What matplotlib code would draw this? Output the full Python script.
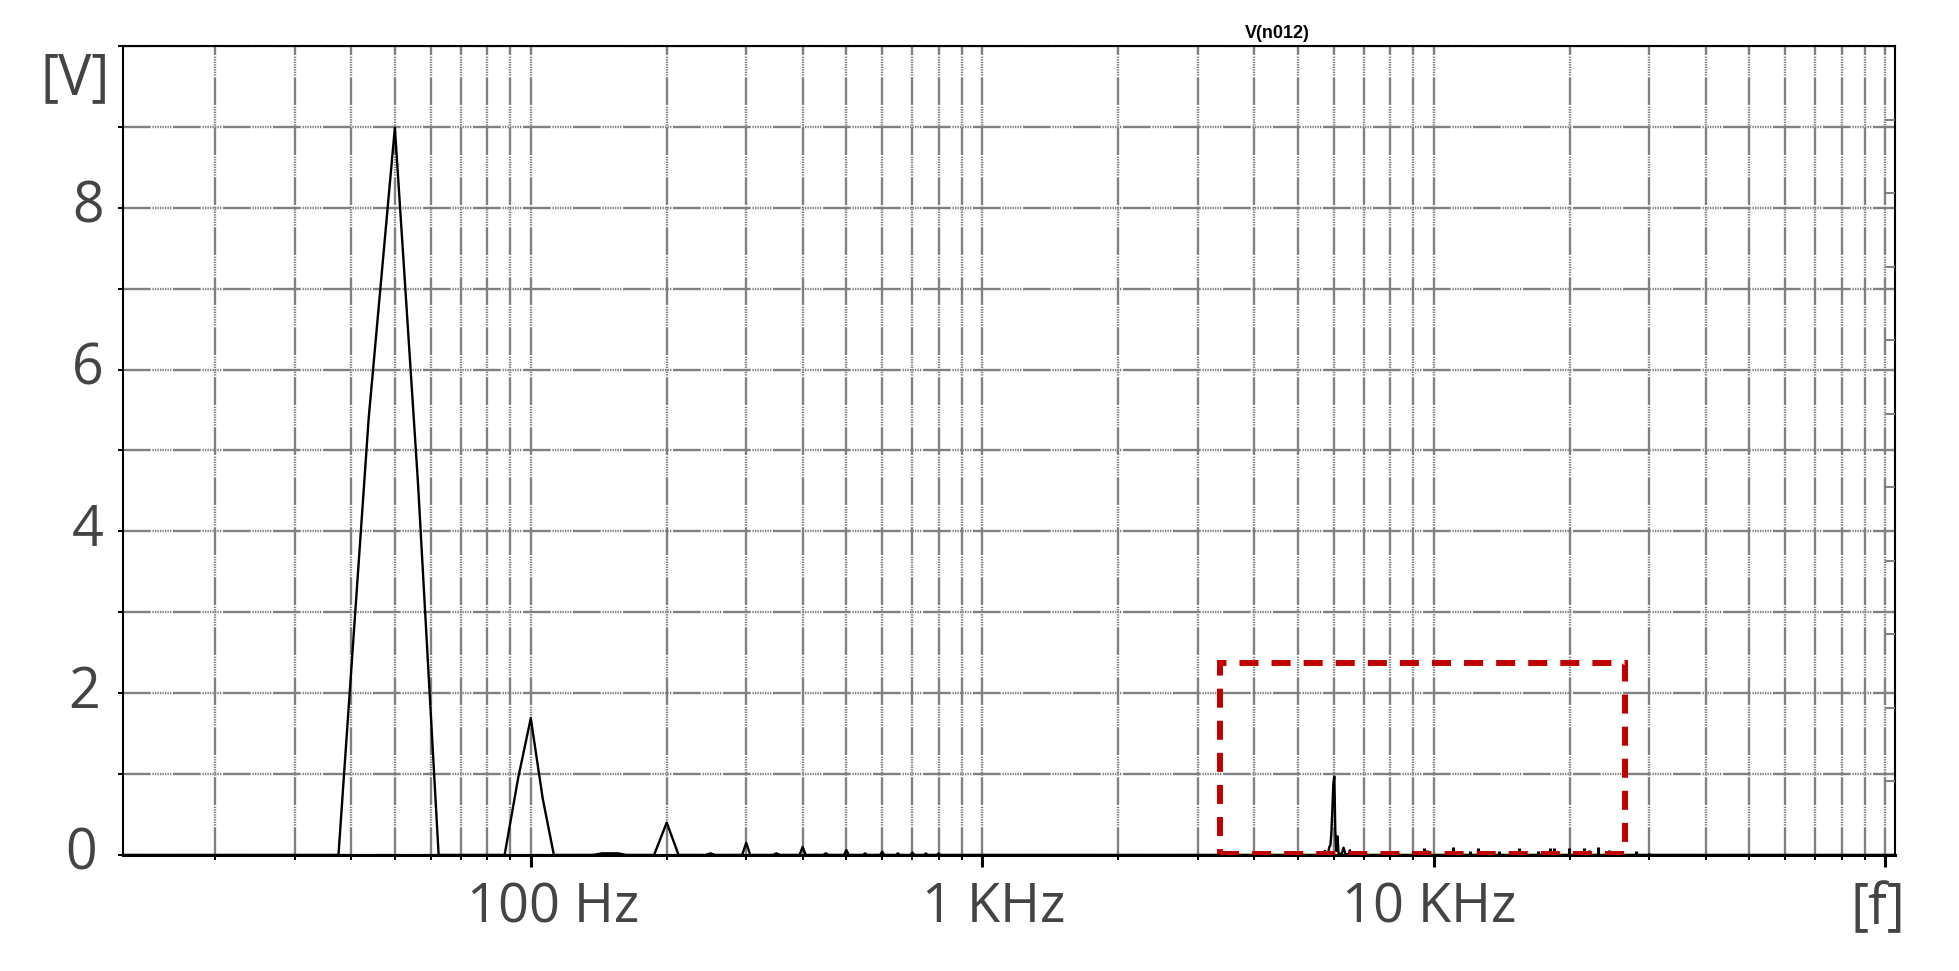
import numpy as np
import matplotlib
matplotlib.use("Agg")
import matplotlib.pyplot as plt
from matplotlib.ticker import FixedLocator, LogLocator, MultipleLocator, NullFormatter
from matplotlib.patches import Rectangle

# FFT of V(n012) - harmonics of 50 Hz, 6.25 Hz bins
freq_low = [12.5, 31.25, 37.5, 43.75, 50, 56.25, 62.5, 87.5, 93.75, 100, 106.25, 112.5,
            137.5, 143.75, 150, 156.25, 162.5, 187.5, 200, 212.5, 243.75, 250, 256.25,
            293.75, 300, 306.25, 343.75, 350, 356.25, 393.75, 400, 406.25,
            443.75, 450, 456.25, 493.75, 500, 506.25, 543.75, 550, 556.25,
            593.75, 600, 606.25, 643.75, 650, 656.25, 693.75, 700, 706.25,
            743.75, 750, 756.25, 793.75, 800, 806.25]
volts_low = [0, 0, 0, 5.4, 8.99, 4.6, 0, 0, 0.95, 1.69, 0.7, 0,
             0, 0.02, 0.02, 0.02, 0, 0, 0.40, 0, 0, 0.02, 0,
             0, 0.15, 0, 0, 0.02, 0, 0, 0.10, 0,
             0, 0.02, 0, 0, 0.06, 0, 0, 0.02, 0,
             0, 0.04, 0, 0, 0.02, 0, 0, 0.03, 0,
             0, 0.02, 0, 0, 0.02, 0]

# switching component around 6 kHz
freq_sw = [806.25, 5650, 5735, 5820, 5870, 5900, 5930, 5960, 5990, 6020, 6050, 6080,
           6119, 6150, 6250, 6310, 6370, 6480, 6516, 6560, 105000]
volts_sw = [0, 0, 0.05, 0, 0.10, 0.12, 0.27, 0.57, 0.88, 0.97, 0.30, 0.05,
            0.23, 0.02, 0.01, 0.09, 0.01, 0.01, 0.06, 0, 0]

# small noise spikes 5-30 kHz
noise_freq = [4920, 7668, 8031, 8987, 9503, 9650, 11020, 12014, 12517, 13932, 15430,
              16996, 18066, 18440, 19907, 21486, 22042, 23080, 24415, 25952, 28020, 29950]
noise_volts = [0.02, 0.02, 0.05, 0.05, 0.08, 0.06, 0.10, 0.05, 0.08, 0.05, 0.08,
               0.05, 0.08, 0.08, 0.08, 0.08, 0.06, 0.10, 0.06, 0.04, 0.05, 0.03]

decade_ticks = [100, 1000, 10000, 100000]
decade_labels = ["100 Hz", "1 KHz", "10 KHz"]
label_shift = [22, 11, -5]   # px, labels are not exactly centred on the ticks

volt_labels = [0, 2, 4, 6, 8]
volt_shift = [-42, -39, -35, -35, -35]   # px from the left spine

# highlight box
box_f = (3357, 26500)
box_v = (0.01, 2.37)

plt.rcParams['lines.scale_dashes'] = False
plt.rcParams['font.family'] = ['Open Sans', 'DejaVu Sans']

fig = plt.figure(figsize=(19.59, 9.71), dpi=100)
ax = fig.add_axes([0.0628, 0.1195, 0.9045, 0.8331])

gray = '#808080'
txt = '#444444'
grid_ls = (0, (20, 1.2, 1, 0.8, 1, 0.8, 1, 0.8, 1, 0.8, 1, 0.8, 1, 0.8, 1, 0.8, 1, 1.2))

ax.plot(freq_low + freq_sw, volts_low + volts_sw, color='black', lw=1.7, zorder=3)
ax.vlines(noise_freq, 0, noise_volts, color='black', lw=2.2, zorder=3)

ax.set_xscale('log')
ax.set_xlim(12.5, 105000)
ax.set_ylim(0, 10)

ax.xaxis.set_major_locator(FixedLocator(decade_ticks))
ax.xaxis.set_major_formatter(NullFormatter())
ax.xaxis.set_minor_locator(LogLocator(base=10, subs=range(2, 10), numticks=20))
ax.xaxis.set_minor_formatter(NullFormatter())
ax.yaxis.set_major_locator(MultipleLocator(1))
ax.yaxis.set_major_formatter(NullFormatter())

ax.set_axisbelow(True)
ax.grid(True, which='both', axis='x', color=gray, lw=1.7, ls=grid_ls)
ax.grid(True, which='major', axis='y', color=gray, lw=1.7, ls=grid_ls)

ax.tick_params(axis='x', which='major', length=8.5, width=2.2, direction='out')
ax.tick_params(axis='x', which='minor', length=3.6, width=1.4, direction='out')
ax.tick_params(axis='y', which='major', length=3.3, width=1.4, direction='out')

for f, lab, dx in zip(decade_ticks, decade_labels, label_shift):
    ax.annotate(lab, xy=(f, 0), xycoords=('data', 'axes fraction'), xytext=(dx, -53),
                textcoords='offset pixels', ha='center', va='center', fontsize=39, color=txt)

for v, dx in zip(volt_labels, volt_shift):
    ax.annotate(str(v), xy=(0, v), xycoords=('axes fraction', 'data'), xytext=(dx, 0),
                textcoords='offset pixels', ha='center', va='center', fontsize=40, color=txt)

for s in ['top', 'left', 'right']:
    ax.spines[s].set_linewidth(1.5)
ax.spines['bottom'].set_linewidth(2.2)

# inner ticks on the right side
ax2 = ax.twinx()
ax2.set_ylim(0, 11)
ax2.set_yticks(range(1, 11))
ax2.tick_params(axis='y', direction='in', length=7, width=1.4, color=gray, labelright=False)
for s in ax2.spines.values():
    s.set_visible(False)

ax.add_patch(Rectangle((box_f[0], box_v[0]), box_f[1] - box_f[0], box_v[1] - box_v[0],
                       fill=False, ec='#C00000', lw=4.3, ls=(0, (13.7, 9.4)), zorder=4))

fig.text(1277 / 1959, 1 - 33 / 971, 'V(n012)', ha='center', va='center', fontsize=13,
         fontweight='bold', family='Liberation Sans')
fig.text(75 / 1959, 1 - 80 / 971, '[V]', ha='center', va='center', fontsize=40, color=txt)
fig.text(1878 / 1959, 1 - 910 / 971, '[f]', ha='center', va='center', fontsize=40, color=txt)

fig.savefig('out.png', dpi=100)
